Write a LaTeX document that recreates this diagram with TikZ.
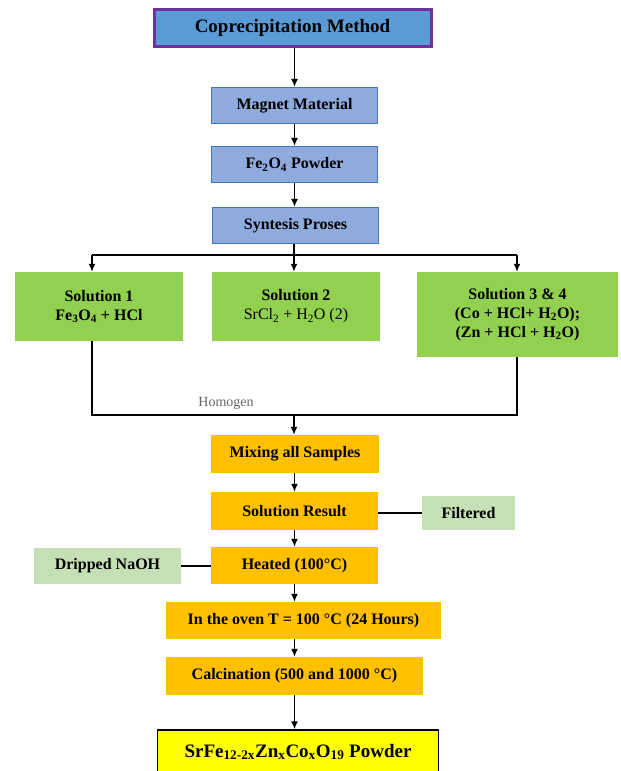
\documentclass[tikz,border=0pt]{standalone}
\usepackage{fontspec}
\setmainfont{Liberation Serif}
\usetikzlibrary{arrows.meta}
\definecolor{copfill}{HTML}{5B9BD5}
\definecolor{copdraw}{HTML}{7030A0}
\definecolor{bluefill}{HTML}{8FAADC}
\definecolor{bluedraw}{HTML}{4472C4}
\definecolor{greenfill}{HTML}{92D050}
\definecolor{orangefill}{HTML}{FFC000}
\definecolor{lgreen}{HTML}{C5E0B4}
\definecolor{yel}{HTML}{FFFF00}
\tikzset{
  box/.style={inner sep=0pt, align=center, font=\fontsize{16}{19}\selectfont\bfseries},
  bluebox/.style={box, fill=bluefill, draw=bluedraw, line width=1.2pt},
  greenbox/.style={box, fill=greenfill},
  orangebox/.style={box, fill=orangefill},
  sidebox/.style={box, fill=lgreen},
  conn/.style={line width=1.4pt, draw=black},
  arr/.style={conn, -{Latex[length=8pt,width=7pt]}},
}
\begin{document}
\begin{tikzpicture}[x=1pt,y=-1pt]
\clip (0,0) rectangle (621,771);
\fill[white] (0,0) rectangle (621,771);
% nodes
\node[box, fill=copfill, draw=copdraw, line width=3pt, minimum width=277pt, minimum height=37pt,
      font=\fontsize{19}{22}\selectfont\bfseries] (cop) at (292.5,27.5) {Coprecipitation Method};
\node[bluebox, minimum width=166pt, minimum height=36pt] (mag) at (294.5,105.5) {Magnet Material};
\node[bluebox, minimum width=166pt, minimum height=36pt] (fe) at (294.5,164.5) {Fe\textsubscript{2}O\textsubscript{4} Powder};
\node[bluebox, minimum width=166pt, minimum height=36pt] (syn) at (295.5,225.5) {Syntesis Proses};
\node[greenbox, minimum width=168pt, minimum height=69pt] (sol1) at (99,306.5) {Solution 1\\Fe\textsubscript{3}O\textsubscript{4} + HCl};
\node[greenbox, minimum width=168pt, minimum height=69pt] (sol2) at (296,306.5) {Solution 2\\\mdseries SrCl\textsubscript{2} + H\textsubscript{2}O (2)};
\node[greenbox, minimum width=201pt, minimum height=85pt] (sol3) at (517.5,314.5) {Solution 3 \& 4\\(Co + HCl+ H\textsubscript{2}O);\\(Zn + HCl + H\textsubscript{2}O)};
\node[text=black!60, font=\fontsize{14}{16}\selectfont, inner sep=0pt] (hom) at (226,403) {Homogen};
\node[orangebox, minimum width=168pt, minimum height=38pt] (mix) at (295,454) {Mixing all Samples};
\node[orangebox, minimum width=167pt, minimum height=38pt] (res) at (294.5,511) {Solution Result};
\node[sidebox, minimum width=93pt, minimum height=34pt] (filt) at (468.5,513) {Filtered};
\node[orangebox, minimum width=167pt, minimum height=37pt] (heat) at (294.5,565.5) {Heated (100°C)};
\node[sidebox, minimum width=147pt, minimum height=36pt] (drip) at (107.5,566) {Dripped NaOH};
\node[orangebox, minimum width=275pt, minimum height=37pt] (oven) at (303.5,620.5) {In the oven T = 100 °C (24 Hours)};
\node[orangebox, minimum width=257pt, minimum height=38pt] (calc) at (294.5,676) {Calcination (500 and 1000 °C)};
\node[box, fill=yel, draw=black, line width=1.5pt, minimum width=281pt, minimum height=44pt,
      font=\fontsize{19}{22}\selectfont\bfseries] (fin) at (298,752) {SrFe\textsubscript{12-2x}Zn\textsubscript{x}Co\textsubscript{x}O\textsubscript{19} Powder};
% coordinates
\coordinate (bl) at (92,255);
\coordinate (bm) at (294,255);
\coordinate (brr) at (517,255);
\coordinate (jl) at (92,415);
\coordinate (jm) at (294,415);
\coordinate (jr) at (517,415);
% connectors
\draw[arr] (cop.south -| mag.north) -- (mag.north);
\draw[arr] (mag.south) -- (fe.north);
\draw[arr] (fe.south) -- (fe.south |- syn.north);
\draw[conn] (syn.south -| bm) -- (bm);
\draw[conn] (bl) -- (brr);
\draw[arr] (bl) -- (bl |- sol1.north);
\draw[arr] (bm) -- (bm |- sol2.north);
\draw[arr] (brr) -- (brr |- sol3.north);
\draw[conn] (sol1.south -| jl) -- (jl) -- (jr) -- (sol3.south -| jr);
\draw[arr] (jm) -- (jm |- mix.north);
\draw[arr] (mix.south -| res.north) -- (res.north);
\draw[arr] (res.south) -- (heat.north);
\draw[arr] (heat.south) -- (heat.south |- oven.north);
\draw[arr] (oven.south -| calc.north) -- (calc.north);
\draw[arr] (calc.south) -- (calc.south |- fin.north);
\draw[conn] (res.east |- filt.west) -- (filt.west);
\draw[conn] (drip.east) -- (drip.east -| heat.west);
\end{tikzpicture}
\end{document}
